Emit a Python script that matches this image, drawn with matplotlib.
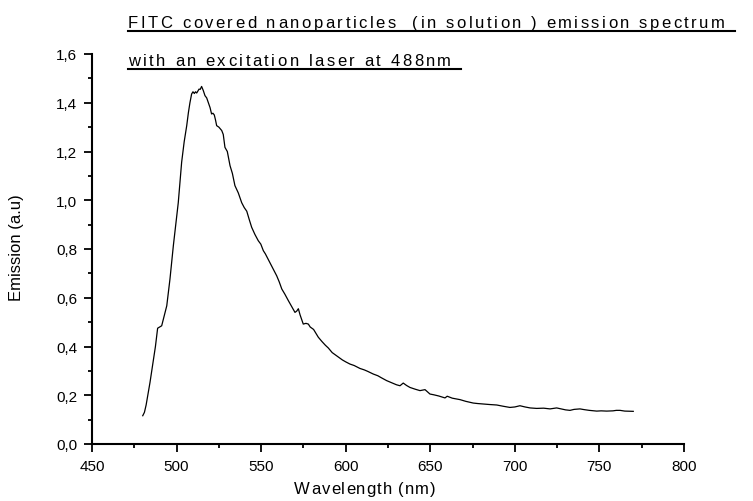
import matplotlib
matplotlib.use("Agg")
import matplotlib.pyplot as plt
from matplotlib.ticker import MultipleLocator, FuncFormatter

wavelength = [480, 481, 482, 483, 484.3, 486, 487.5, 488.8, 490, 491.2, 492.5, 494.2, 496.1, 498.1,
              499.5, 501, 503, 504.5, 506, 507, 507.9, 508.9, 509.7, 510.5, 511.2, 511.9, 512.6,
              513.3, 514, 514.8, 515.8, 516.8, 517.8, 518.8, 519.8, 520.7, 521.5, 522.3, 523,
              523.7, 525, 526.7, 527.6, 528.6, 530, 531.6, 533, 534.5, 536.5, 538.5, 540, 541.5,
              543, 544.4, 546.3, 548.3, 549.8, 551.3, 552.5, 554, 556.2, 557.7, 559.2, 560.7,
              562.2, 564, 566.1, 568, 570, 571, 572, 573, 574.9, 576.5, 577.9, 579, 581, 583.8,
              586, 588, 589.7, 592, 595, 598, 600, 602.5, 605, 608.4, 611, 613, 616.3, 619, 621,
              624.2, 627, 630, 632.1, 634, 636, 638, 641, 643.9, 646.9, 649.8, 652, 655, 658.7,
              660, 663, 667.6, 671, 675.4, 678, 681.4, 685, 689.3, 693, 697.1, 700, 703, 706,
              709, 712.9, 717, 720.8, 724.7, 728, 730, 732.6, 735, 738.5, 741, 744, 748.4, 751,
              754.3, 758, 760, 762.2, 765, 770]
emission = [0.116, 0.13, 0.16, 0.20, 0.253, 0.33, 0.40, 0.475, 0.48, 0.485, 0.52, 0.567, 0.677,
            0.814, 0.90, 0.99, 1.156, 1.24, 1.306, 1.36, 1.40, 1.436, 1.445, 1.438, 1.445, 1.44,
            1.448, 1.456, 1.455, 1.467, 1.45, 1.429, 1.42, 1.40, 1.38, 1.354, 1.357, 1.35, 1.33,
            1.306, 1.30, 1.286, 1.27, 1.217, 1.20, 1.142, 1.11, 1.06, 1.03, 0.99, 0.97, 0.955,
            0.92, 0.889, 0.86, 0.834, 0.82, 0.793, 0.78, 0.76, 0.731, 0.71, 0.69, 0.665, 0.636,
            0.615, 0.588, 0.565, 0.540, 0.545, 0.555, 0.53, 0.492, 0.495, 0.492, 0.48, 0.47,
            0.438, 0.42, 0.405, 0.394, 0.375, 0.36, 0.345, 0.337, 0.328, 0.322, 0.31, 0.304,
            0.298, 0.287, 0.28, 0.272, 0.26, 0.252, 0.243, 0.239, 0.25, 0.24, 0.232, 0.225,
            0.219, 0.223, 0.205, 0.202, 0.197, 0.189, 0.196, 0.188, 0.182, 0.175, 0.168, 0.166,
            0.164, 0.162, 0.16, 0.155, 0.15, 0.152, 0.157, 0.152, 0.148, 0.146, 0.147, 0.144,
            0.148, 0.143, 0.140, 0.138, 0.142, 0.144, 0.141, 0.138, 0.135, 0.136, 0.135, 0.136,
            0.138, 0.138, 0.135, 0.134]

title_lines = ["FITC covered nanoparticles  (in solution ) emission spectrum ",
               "with an excitation laser at 488nm "]
xlabel = "Wavelength (nm)"
ylabel = "Emission (a.u)"

plt.rcParams['font.family'] = ['Liberation Sans', 'DejaVu Sans']

W, H = 753, 502
fig = plt.figure(figsize=(W / 100, H / 100), dpi=100)
ax = fig.add_axes([92 / W, 1 - 445 / H, (684 - 92) / W, (445 - 55) / H])
ax.plot(wavelength, emission, color='black', lw=0.9)
ax.set_xlim(450, 800)
ax.set_ylim(0, 1.6)
ax.spines['top'].set_visible(False)
ax.spines['right'].set_visible(False)
for s in ('left', 'bottom'):
    ax.spines[s].set_linewidth(1.5)
ax.xaxis.set_major_locator(MultipleLocator(50))
ax.xaxis.set_minor_locator(MultipleLocator(25))
ax.yaxis.set_major_locator(MultipleLocator(0.2))
ax.yaxis.set_minor_locator(MultipleLocator(0.1))
ax.yaxis.set_major_formatter(FuncFormatter(lambda v, p: f"{v:.1f}".replace('.', ',')))
ax.tick_params(which='major', direction='out', length=5.5, width=1.3, labelsize=11, pad=5)
ax.tick_params(which='minor', direction='out', length=3, width=1.3)

fig.text(17 / W, 1 - 248 / H, ylabel, ha='center', va='center', rotation=90, fontsize=12)

renderer = fig.canvas.get_renderer()


def text_width(s, fs):
    t = fig.text(0, 0, s, fontsize=fs)
    w = t.get_window_extent(renderer=renderer).width
    t.remove()
    return w


def spaced_text(s, x0, yb, fs, spacing, va='baseline', draw=True):
    """Letter-spaced text drawn character by character; returns end x (px)."""
    bar_w = text_width("|", fs)
    x = x0
    for ch in s:
        if draw and ch != ' ':
            fig.text(x / W, 1 - yb / H, ch, ha='left', va=va, fontsize=fs)
        x += text_width(ch + "|", fs) - bar_w + spacing
    return x


# x-axis label, slightly letter-spaced, centred at x=365 px
xl_fs, xl_sp = 12, 1.0
xl_w = spaced_text(xlabel, 0, 0, xl_fs, xl_sp, draw=False) - xl_sp
spaced_text(xlabel, 365 - xl_w / 2, 494, xl_fs, xl_sp)

# underlined two-line title
title_fs = 12
spacing = 2.5
baselines = [28, 66]
for line, yb in zip(title_lines, baselines):
    x_end = spaced_text(line, 128.0, yb, title_fs, spacing)
    yu = 1 - (yb + 3.5) / H
    fig.add_artist(plt.Line2D([128 / W, x_end / W], [yu, yu], color='black', lw=1.5,
                              transform=fig.transFigure))

fig.savefig("out.png", dpi=100)
